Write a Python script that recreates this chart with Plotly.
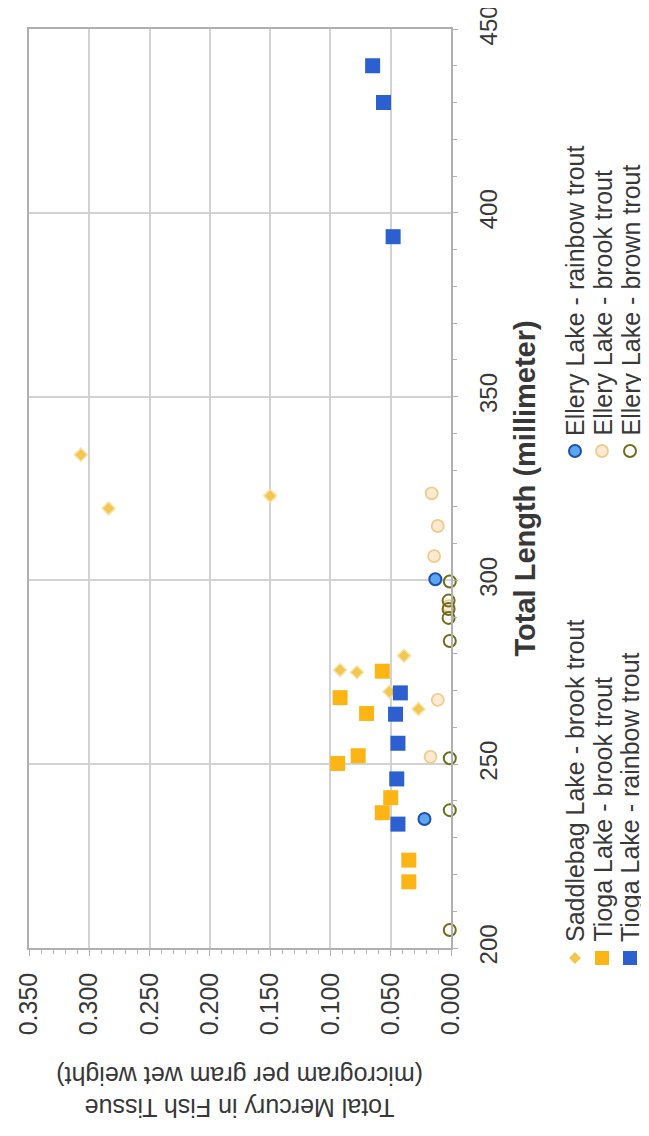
import plotly.graph_objects as go

# ---------------- data ----------------
saddlebag_brook_len = [334.2, 319.6, 323.0, 279.5, 275.6, 275.0, 269.7, 265.0]
saddlebag_brook_hg = [0.307, 0.284, 0.150, 0.039, 0.092, 0.078, 0.051, 0.027]

tioga_brook_len = [275.3, 268.1, 263.8, 252.3, 250.2, 240.9, 236.8, 223.9, 218.0]
tioga_brook_hg = [0.057, 0.092, 0.070, 0.077, 0.094, 0.050, 0.057, 0.035, 0.035]

tioga_rainbow_len = [269.4, 263.6, 255.7, 246.0, 233.7, 393.5, 430.0, 440.0]
tioga_rainbow_hg = [0.042, 0.046, 0.044, 0.045, 0.044, 0.048, 0.056, 0.065]

ellery_rainbow_len = [300.3, 235.1]
ellery_rainbow_hg = [0.013, 0.022]

ellery_brook_len = [323.7, 314.8, 306.6, 267.5, 252.0, 293.0]
ellery_brook_hg = [0.016, 0.011, 0.014, 0.011, 0.017, 0.002]

ellery_brown_len = [299.7, 294.5, 292.2, 289.8, 283.5, 251.6, 237.5, 204.9]
ellery_brown_hg = [0.001, 0.002, 0.002, 0.002, 0.001, 0.001, 0.001, 0.001]

hg_ticks = [0.0, 0.05, 0.10, 0.15, 0.20, 0.25, 0.30, 0.35]
len_ticks = [200, 250, 300, 350, 400, 450]

series_names = [
    "Saddlebag Lake - brook trout",
    "Tioga Lake - brook trout",
    "Tioga Lake - rainbow trout",
    "Ellery Lake - rainbow trout",
    "Ellery Lake - brook trout",
    "Ellery Lake - brown trout",
]

x_title = "Total Length (millimeter)"
y_title = "Total Mercury in Fish Tissue<br>(microgram per gram wet weight)"

# ---------------- styles ----------------
FONT = "Liberation Sans, Arial, sans-serif"
TXT = "#383838"
GRID = "#d2d2d2"
AX = "#b0b0b0"

C_SAD = "#F2C64F"
C_SAD_LINE = "#F8E2A6"
C_TB = "#FDB515"
C_TR = "#2C5FCF"
C_ER_FILL = "#5BA6EE"
C_ER_LINE = "#1F4FB0"
C_EB_FILL = "#FCEBD2"
C_EB_LINE = "#F1CB8E"
C_EBR = "#6E6E1C"

# page body has an 8px margin: work in window pixels and convert
OFF = 8
W, H = 649 - OFF, 1136 - OFF
PL, PR, PT, PB = 29, 451, 29, 948          # plot edges in window pixels
L, T = PL - OFF, PT - OFF
R, B = W - (PR - OFF), H - (PB - OFF)
PW, PH = PR - PL, PB - PT


def px_x(px):
    return (px - PL) / PW


def px_y(py):
    return (PB - py) / PH


fig = go.Figure()

fig.add_trace(go.Scatter(x=saddlebag_brook_hg, y=saddlebag_brook_len, mode="markers",
                         name=series_names[0], cliponaxis=False,
                         marker=dict(symbol="diamond", size=10, color=C_SAD,
                                     line=dict(color=C_SAD_LINE, width=1.5))))
fig.add_trace(go.Scatter(x=ellery_brook_hg, y=ellery_brook_len, mode="markers",
                         name=series_names[4], cliponaxis=False,
                         marker=dict(symbol="circle", size=12, color=C_EB_FILL,
                                     line=dict(color=C_EB_LINE, width=1.8))))
fig.add_trace(go.Scatter(x=tioga_brook_hg, y=tioga_brook_len, mode="markers",
                         name=series_names[1], cliponaxis=False,
                         marker=dict(symbol="square", size=15, color=C_TB,
                                     line=dict(width=0))))
fig.add_trace(go.Scatter(x=tioga_rainbow_hg, y=tioga_rainbow_len, mode="markers",
                         name=series_names[2], cliponaxis=False,
                         marker=dict(symbol="square", size=15, color=C_TR,
                                     line=dict(width=0))))
fig.add_trace(go.Scatter(x=ellery_rainbow_hg, y=ellery_rainbow_len, mode="markers",
                         name=series_names[3], cliponaxis=False,
                         marker=dict(symbol="circle", size=12, color=C_ER_FILL,
                                     line=dict(color=C_ER_LINE, width=2))))
fig.add_trace(go.Scatter(x=ellery_brown_hg, y=ellery_brown_len, mode="markers",
                         name=series_names[5], cliponaxis=False,
                         marker=dict(symbol="circle-open", size=12, color=C_EBR,
                                     line=dict(color=C_EBR, width=2))))

fig.update_layout(
    width=W, height=H,
    margin=dict(l=L, r=R, t=T, b=B, pad=0),
    paper_bgcolor="white", plot_bgcolor="white",
    showlegend=False,
    font=dict(family=FONT, color=TXT),
    xaxis=dict(
        range=[0.35, 0.0], autorange=False, automargin=False,
        tickvals=hg_ticks, tickformat=".3f", tickangle=-90,
        tickfont=dict(size=25, color=TXT, family=FONT),
        showgrid=True, gridcolor=GRID, gridwidth=1.5,
        showline=True, linecolor=AX, linewidth=1.5, mirror=True,
        ticks="outside", ticklen=6, tickcolor=AX, ticklabelstandoff=7,
        ticklabeloverflow="allow",
        minor=dict(dtick=0.01, ticks="outside", ticklen=4, tickcolor=AX, showgrid=False),
        zeroline=False,
    ),
    yaxis=dict(
        range=[200, 450], autorange=False, automargin=False, side="right",
        tickvals=len_ticks, tickangle=-90,
        tickfont=dict(size=24, color=TXT, family=FONT),
        showgrid=True, gridcolor=GRID, gridwidth=1.5,
        showline=True, linecolor=AX, linewidth=1.5, mirror=True,
        ticks="outside", ticklen=5, tickcolor=AX, ticklabelstandoff=10,
        ticklabeloverflow="allow",
        minor=dict(dtick=10, ticks="outside", ticklen=4, tickcolor=AX, showgrid=False),
        zeroline=False,
    ),
)

annotations = []
# axis titles
annotations.append(dict(text="<b>" + x_title + "</b>", textangle=-90, showarrow=False,
                        xref="paper", yref="paper", x=px_x(524), y=0.5,
                        xanchor="center", yanchor="middle",
                        font=dict(size=29, color=TXT, family=FONT)))
annotations.append(dict(text=y_title, textangle=180, showarrow=False,
                        xref="paper", yref="paper", x=0.5, y=px_y(1092),
                        xanchor="center", yanchor="middle",
                        font=dict(size=25, color=TXT, family=FONT)))

# manual rotated legend
rows_x = [575, 602, 630]
col_marker_y = [958, 451]
col_text_y = [944, 438]
shapes = []
for i, name in enumerate(series_names):
    col, row = divmod(i, 3)
    rx = rows_x[row]
    annotations.append(dict(text=name, textangle=-90, showarrow=False,
                            xref="paper", yref="paper",
                            x=px_x(rx), y=px_y(col_text_y[col]),
                            xanchor="center", yanchor="bottom",
                            font=dict(size=25, color=TXT, family=FONT)))
    ax, ay = px_x(rx), px_y(col_marker_y[col])
    base = dict(xref="paper", yref="paper", xsizemode="pixel", ysizemode="pixel",
                xanchor=ax, yanchor=ay, layer="above")
    if i == 0:
        shapes.append(dict(type="path", path="M 0,6 L 6,0 L 0,-6 L -6,0 Z",
                           fillcolor=C_SAD, line=dict(color=C_SAD_LINE, width=1), **base))
    elif i == 1:
        shapes.append(dict(type="rect", x0=-7, x1=7, y0=-7, y1=7,
                           fillcolor=C_TB, line=dict(width=0), **base))
    elif i == 2:
        shapes.append(dict(type="rect", x0=-7, x1=7, y0=-7, y1=7,
                           fillcolor=C_TR, line=dict(width=0), **base))
    elif i == 3:
        shapes.append(dict(type="circle", x0=-6, x1=6, y0=-6, y1=6,
                           fillcolor=C_ER_FILL, line=dict(color=C_ER_LINE, width=2), **base))
    elif i == 4:
        shapes.append(dict(type="circle", x0=-6, x1=6, y0=-6, y1=6,
                           fillcolor=C_EB_FILL, line=dict(color=C_EB_LINE, width=1.8), **base))
    else:
        shapes.append(dict(type="circle", x0=-6, x1=6, y0=-6, y1=6,
                           fillcolor="rgba(0,0,0,0)", line=dict(color=C_EBR, width=2), **base))

fig.update_layout(annotations=annotations, shapes=shapes)

fig.write_html("out.html")
